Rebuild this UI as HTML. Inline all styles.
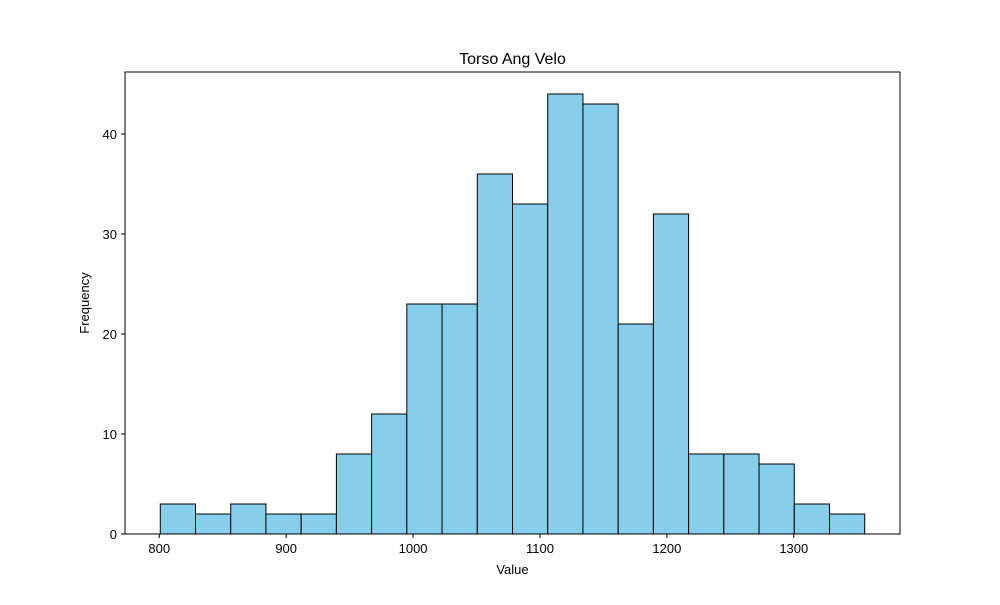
<!DOCTYPE html>
<html><head><meta charset="utf-8"><style>
body{margin:0;background:#fff;}
svg text{font-family:"Liberation Sans","DejaVu Sans",sans-serif;}
</style></head><body>
<svg id="chart" width="1000" height="600" xmlns="http://www.w3.org/2000/svg">
<rect width="1000" height="600" fill="#fff"/>
<text x="512.5" y="64" text-anchor="middle" font-size="16">Torso Ang Velo</text>
<g id="bars"></g>
<g id="xticks"></g>
<g id="yticks"></g>
<rect x="125" y="72" width="775" height="462" fill="none" stroke="#000" stroke-width="1"/>
<text x="512.5" y="574" text-anchor="middle" font-size="13">Value</text>
<text x="89" y="303" text-anchor="middle" font-size="13" transform="rotate(-90 89 303)">Frequency</text>
</svg>
<script>
const counts=[3,2,3,2,2,8,12,23,23,36,33,44,43,21,32,8,8,7,3,2];
const binStart=800.8;
const binEnd=1355.9;
const xTicks=[800,900,1000,1100,1200,1300];
const yTicks=[0,10,20,30,40];
const xMin=773,xMax=1383.7,yMax=46.2;
const L=125,R=900,T=72,B=534;
const xs=v=>L+(v-xMin)/(xMax-xMin)*(R-L);
const ys=v=>B-v/yMax*(B-T);
const NS="http://www.w3.org/2000/svg";
const bars=document.getElementById('bars');
const bw=(binEnd-binStart)/counts.length;
counts.forEach((c,i)=>{
  const r=document.createElementNS(NS,'rect');
  const x0=xs(binStart+i*bw),x1=xs(binStart+(i+1)*bw);
  r.setAttribute('x',x0);r.setAttribute('y',ys(c));
  r.setAttribute('width',x1-x0);r.setAttribute('height',B-ys(c));
  r.setAttribute('fill','#87ceeb');r.setAttribute('stroke','#000');r.setAttribute('stroke-width','1');
  
  
  bars.appendChild(r);
});
const xg=document.getElementById('xticks');
xTicks.forEach(t=>{
  const x=xs(t);
  const l=document.createElementNS(NS,'line');
  l.setAttribute('x1',x);l.setAttribute('x2',x);l.setAttribute('y1',B);l.setAttribute('y2',B+4);l.setAttribute('stroke','#000');
  
  
  xg.appendChild(l);
  const tx=document.createElementNS(NS,'text');
  tx.setAttribute('x',x);tx.setAttribute('y',B+19);tx.setAttribute('text-anchor','middle');tx.setAttribute('font-size','13');
  tx.textContent=t;
  
  
  xg.appendChild(tx);
});
const yg=document.getElementById('yticks');
yTicks.forEach(t=>{
  const y=ys(t);
  const l=document.createElementNS(NS,'line');
  l.setAttribute('x1',L-4);l.setAttribute('x2',L);l.setAttribute('y1',y);l.setAttribute('y2',y);l.setAttribute('stroke','#000');
  
  
  yg.appendChild(l);
  const tx=document.createElementNS(NS,'text');
  tx.setAttribute('x',L-8);tx.setAttribute('y',y+5);tx.setAttribute('text-anchor','end');tx.setAttribute('font-size','13');
  tx.textContent=t;
  
  
  yg.appendChild(tx);
});
</script>
</body></html>
